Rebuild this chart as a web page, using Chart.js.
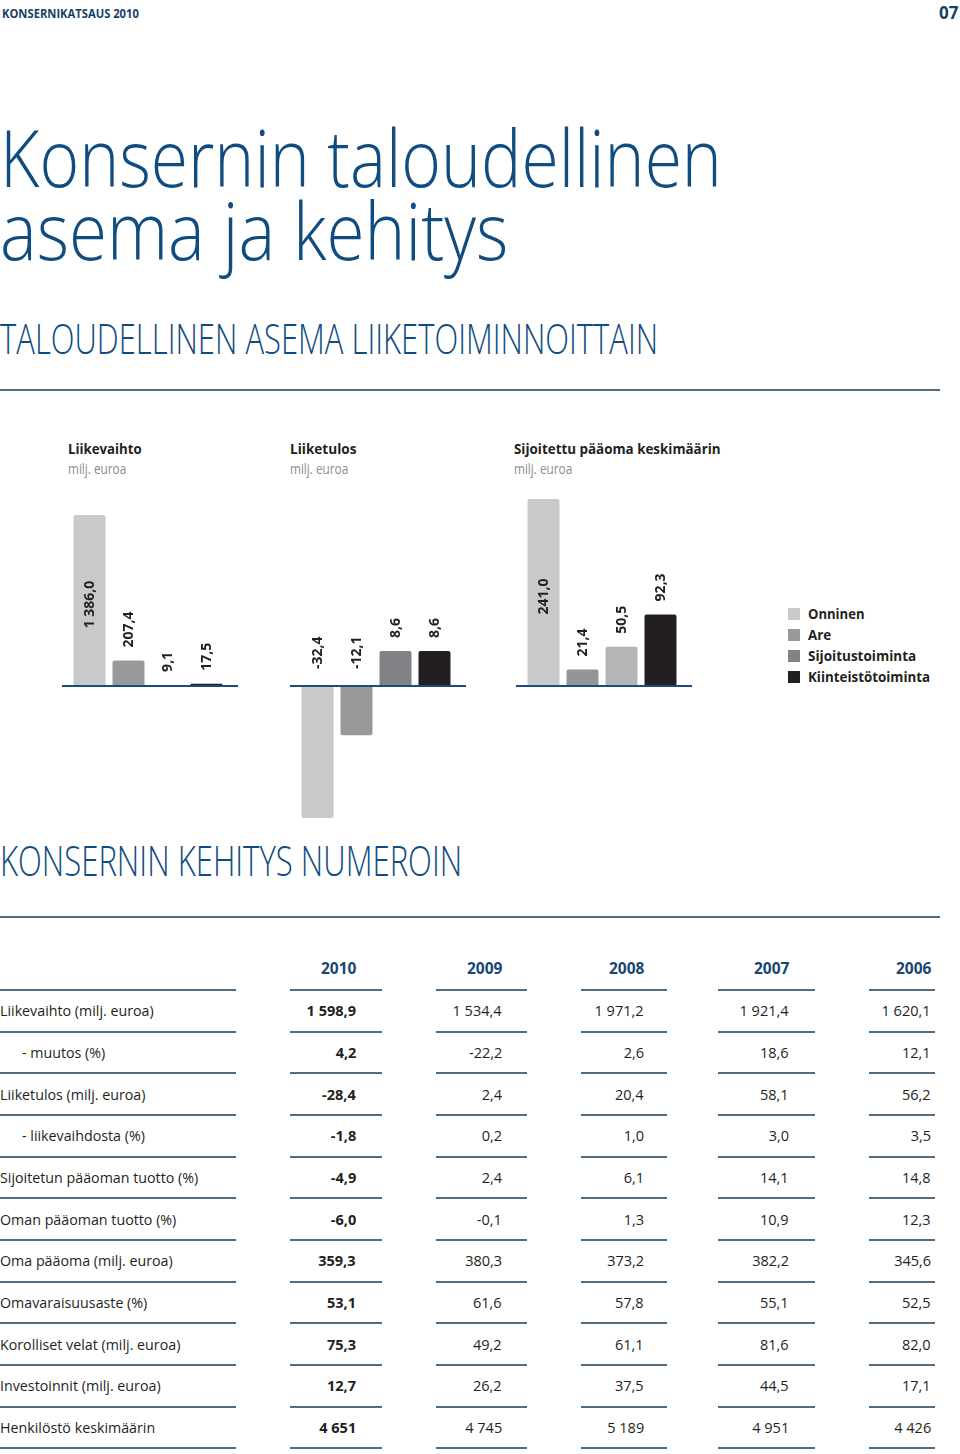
<!DOCTYPE html>
<html>
<head>
<meta charset="utf-8">
<script src="https://cdn.jsdelivr.net/npm/chart.js@4.4.0/dist/chart.umd.min.js"></script>
<style>
  html, body { margin: 0; padding: 0; background: #fff; }
  body { width: 960px; height: 1454px; position: relative; overflow: hidden; font-family: "Open Sans", sans-serif; color: #231f20; }
  .t { position: absolute; white-space: nowrap; transform-origin: 0 50%; display: inline-block; }
  .r { transform-origin: 100% 50%; text-align: right; }
  .rule { position: absolute; height: 2px; background: #4f6c85; }
  canvas { position: absolute; }
  .sw { position: absolute; width: 12px; height: 12px; }
  #title { position: absolute; left: 0; top: 118.5px; font-size: 80px; line-height: 73px; font-weight: 300; color: #0f4c81; white-space: nowrap; }
  #title span { display: inline-block; line-height: 64px; transform-origin: 0 0; }
</style>
</head>
<body>
<div id="page"></div>
<div id="title"><span id="t1">Konsernin taloudellinen</span><br><span id="t2">asema ja kehitys</span></div>
<canvas id="c1" width="176" height="345" style="left:62px;top:480px"></canvas>
<canvas id="c2" width="176" height="345" style="left:290px;top:480px"></canvas>
<canvas id="c3" width="176" height="345" style="left:516px;top:480px"></canvas>
<script>
// segments and chart data
const segments = ['Onninen', 'Are', 'Sijoitustoiminta', 'Kiinteistötoiminta'];
const segmentColors = ['#c8c9cb', '#98999b', '#808285', '#231f20'];

const liikevaihto = [1386.0, 207.4, 9.1, 17.5];
const liiketulos = [-32.4, -12.1, 8.6, 8.6];
const sijoitettuPaaoma = [241.0, 21.4, 50.5, 92.3];

// table data
const years = [2010, 2009, 2008, 2007, 2006];
const rowLabels = [
    'Liikevaihto (milj. euroa)',
    '- muutos (%)',
    'Liiketulos (milj. euroa)',
    '- liikevaihdosta (%)',
    'Sijoitetun pääoman tuotto (%)',
    'Oman pääoman tuotto (%)',
    'Oma pääoma (milj. euroa)',
    'Omavaraisuusaste (%)',
    'Korolliset velat (milj. euroa)',
    'Investoinnit (milj. euroa)',
    'Henkilöstö keskimäärin'
];
const rowValues = [
    [1598.9, 1534.4, 1971.2, 1921.4, 1620.1],
    [4.2, -22.2, 2.6, 18.6, 12.1],
    [-28.4, 2.4, 20.4, 58.1, 56.2],
    [-1.8, 0.2, 1.0, 3.0, 3.5],
    [-4.9, 2.4, 6.1, 14.1, 14.8],
    [-6.0, -0.1, 1.3, 10.9, 12.3],
    [359.3, 380.3, 373.2, 382.2, 345.6],
    [53.1, 61.6, 57.8, 55.1, 52.5],
    [75.3, 49.2, 61.1, 81.6, 82.0],
    [12.7, 26.2, 37.5, 44.5, 17.1],
    [4651, 4745, 5189, 4951, 4426]
];
const rowDecimals = [1, 1, 1, 1, 1, 1, 1, 1, 1, 1, 0];

// finnish number format: 1 386,0
const fmt = (v, d) => {
    let s = Math.abs(v).toFixed(d);
    let parts = s.split('.');
    let int = parts[0].replace(/\B(?=(\d{3})+(?!\d))/g, ' ');
    return (v < 0 ? '-' : '') + int + (parts[1] ? ',' + parts[1] : '');
}

const page = document.getElementById('page');

// text helper: x, center y, size; opts: w (fit width), sx (scaleX), lh, right, weight, color
const addText = (txt, x, cy, size, opts = {}) => {
    const el = document.createElement('div');
    const lh = opts.lh || size;
    el.className = 't' + (opts.right ? ' r' : '');
    el.textContent = txt;
    el.style.fontSize = size + 'px';
    el.style.lineHeight = lh + 'px';
    el.style.fontWeight = opts.weight || 400;
    if (opts.color) el.style.color = opts.color;
    el.style.top = (cy - lh / 2) + 'px';
    page.appendChild(el);
    if (opts.right) {
        el.style.left = (x - el.offsetWidth) + 'px';
    } else {
        el.style.left = x + 'px';
    }
    let sc = opts.sx || 1;
    if (opts.w) sc = opts.w / el.offsetWidth;
    if (sc !== 1) el.style.transform = 'scaleX(' + sc + ')';
    return el;
}

const addRule = (x1, x2, y) => {
    const d = document.createElement('div');
    d.className = 'rule';
    d.style.left = x1 + 'px';
    d.style.width = (x2 - x1) + 'px';
    d.style.top = (y - 1) + 'px';
    page.appendChild(d);
}

const blue = '#0f4c81';

// header
addText('KONSERNIKATSAUS 2010', 2, 13.5, 13, { weight: 700, color: '#173f66', w: 137 });
addText('07', 958, 12.5, 17, { weight: 700, color: '#173f66', right: true });

// title, each line squeezed to the reference width
const t1 = document.getElementById('t1');
const t2 = document.getElementById('t2');
t1.style.transform = 'scaleX(' + (722 / t1.offsetWidth) + ')';
t2.style.transform = 'scaleX(' + (508 / t2.offsetWidth) + ')';

addText('TALOUDELLINEN ASEMA LIIKETOIMINNOITTAIN', 0, 338, 42, { weight: 300, color: blue, w: 658 });
addRule(0, 940, 390);

// chart titles
const chartTitles = ['Liikevaihto', 'Liiketulos', 'Sijoitettu pääoma keskimäärin'];
const chartTitleX = [68, 290, 514];
const chartTitleW = [74, 66, 207];
chartTitles.forEach((t, i) => {
    addText(t, chartTitleX[i], 448, 15, { weight: 700, w: chartTitleW[i] });
    addText('milj. euroa', chartTitleX[i], 469, 14, { color: '#8a8c8e', w: 58 });
});

// legend
const legendW = [57, 23, 108, 122];
segments.forEach((s, i) => {
    const cy = 614 + i * 21;
    const sw = document.createElement('div');
    sw.className = 'sw';
    sw.style.left = '788px';
    sw.style.top = (cy - 6) + 'px';
    sw.style.background = segmentColors[i];
    page.appendChild(sw);
    addText(s, 808, cy, 14, { weight: 700, w: legendW[i] });
});

addText('KONSERNIN KEHITYS NUMEROIN', 0, 860, 42, { weight: 300, color: blue, w: 462 });
addRule(0, 940, 917);

// table
const colLines = [[0, 236], [290, 382], [436, 527], [581, 667], [718, 815], [869, 935]];
const colRight = [356, 502, 644, 789, 931];
const rowH = 41.65;
const tableTop = 990;

years.forEach((y, j) => {
    addText(String(y), colRight[j], 969, 15.5, { weight: 700, color: '#1a4674', right: true });
});
colLines.forEach(c => addRule(c[0], c[1], tableTop));

rowLabels.forEach((lab, i) => {
    const cy = tableTop + rowH * i + rowH / 2;
    const indent = lab.startsWith('-') ? 22 : 0;
    addText(lab, indent, cy, 15, { sx: 0.95 });
    rowValues[i].forEach((v, j) => {
        addText(fmt(v, rowDecimals[i]), colRight[j], cy, 15, { right: true, weight: j === 0 ? 700 : 400, sx: 0.97 });
    });
    colLines.forEach(c => addRule(c[0], c[1], tableTop + rowH * (i + 1)));
});

// bar charts
const barLabels = {
    id: 'barLabels',
    afterDatasetsDraw(chart) {
        const ctx = chart.ctx;
        const y0 = chart.scales.y.getPixelForValue(0);
        ctx.save();
        ctx.strokeStyle = '#1b4c7c';
        ctx.lineWidth = 2;
        ctx.beginPath();
        ctx.moveTo(0, y0);
        ctx.lineTo(chart.width, y0);
        ctx.stroke();

        ctx.fillStyle = '#231f20';
        ctx.font = 'bold 14px "Open Sans"';
        ctx.textBaseline = 'middle';
        const data = chart.data.datasets[0].data;
        chart.getDatasetMeta(0).data.forEach((el, i) => {
            const v = data[i];
            const h = Math.abs(el.base - el.y);
            let anchor, align;
            if (v > 0 && h > 120) {
                anchor = (el.y + el.base) / 2 + 4;
                align = 'center';
            } else if (v > 0) {
                anchor = el.y - 13;
                align = 'left';
            } else {
                anchor = y0 - 17;
                align = 'left';
            }
            ctx.save();
            ctx.translate(el.x + 1, anchor);
            ctx.rotate(-Math.PI / 2);
            ctx.textAlign = align;
            ctx.fillText(fmt(v, 1), 0, 0);
            ctx.restore();
        });
        ctx.restore();
    }
};

// baseline sits 206px from canvas top; barLen = pixels for the longest bar
const makeChart = (id, values, colors, barLen) => {
    const H = 345, base = 206;
    const maxAbs = Math.max(...values.map(Math.abs));
    const k = barLen / maxAbs;
    return new Chart(document.getElementById(id), {
        type: 'bar',
        data: {
            labels: segments,
            datasets: [{
                data: values,
                backgroundColor: colors,
                borderRadius: 2,
                borderSkipped: 'start',
                barPercentage: 0.82,
                categoryPercentage: 1
            }]
        },
        options: {
            responsive: false,
            animation: false,
            devicePixelRatio: 1,
            layout: { padding: { left: 8, right: 12, top: 0, bottom: 0 } },
            plugins: { legend: { display: false }, tooltip: { enabled: false } },
            scales: {
                x: { display: false },
                y: { display: false, min: -(H - base) / k, max: base / k }
            }
        },
        plugins: [barLabels]
    });
}

makeChart('c1', liikevaihto, segmentColors, 171);
makeChart('c2', liiketulos, segmentColors, 132);
makeChart('c3', sijoitettuPaaoma, ['#c8c9cb', '#939598', '#b4b5b7', '#231f20'], 187);
</script>
</body>
</html>
